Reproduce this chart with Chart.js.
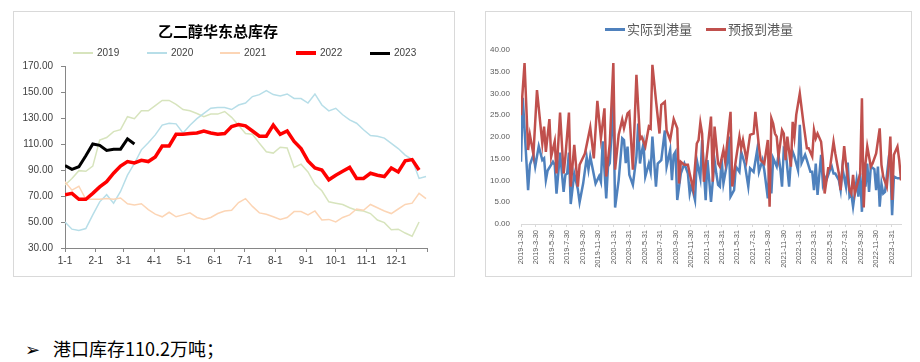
<!DOCTYPE html>
<html lang="zh-CN">
<head>
<meta charset="UTF-8">
<title>乙二醇华东总库存 / 到港量</title>
<script src="https://cdn.jsdelivr.net/npm/chart.js"></script>
<style>
  body { margin:0; background:#fff; width:920px; height:362px; position:relative; overflow:hidden; font-family:"Liberation Sans", Arial, sans-serif; }
  .panel { position:absolute; border:1px solid #d9d9d9; box-sizing:border-box; }
  #p1 { left:13px; top:11px; width:442px; height:266px; }
  #p2 { left:485px; top:11px; width:427px; height:266px; }
  .panel canvas { position:absolute; left:0; top:0; }
  .title { position:absolute; left:144px; top:9px; font-family:"Noto Sans CJK SC"; font-weight:bold; font-size:15px; line-height:20px; color:#000; }
  .leg { position:absolute; display:flex; align-items:center; white-space:nowrap; line-height:14px; }
  .leg i { display:inline-block; width:20px; margin-right:4px; }
  #p1 .leg { font-size:10px; color:#404040; top:34px; }
  #p2 .leg { font-size:13px; color:#595959; top:8px; font-family:"Noto Sans CJK SC"; line-height:18px; }
  #p2 .leg i { margin-right:2px; }
  .note { position:absolute; top:337px; font-family:"Noto Sans CJK SC"; font-size:18px; line-height:22px; color:#000; }
</style>
</head>
<body>

<div class="panel" id="p1">
  <canvas id="kucun" width="440" height="264"></canvas>
  <div class="title">乙二醇华东总库存</div>
  <div class="leg" style="left:59px"><i style="border-top:2px solid #d7e4bd"></i>2019</div>
  <div class="leg" style="left:133px"><i style="border-top:2px solid #b7dee8"></i>2020</div>
  <div class="leg" style="left:206px"><i style="border-top:2px solid #fcd5b5"></i>2021</div>
  <div class="leg" style="left:282px"><i style="border-top:4px solid #ff0000"></i>2022</div>
  <div class="leg" style="left:356px"><i style="border-top:3px solid #000000"></i>2023</div>
</div>

<div class="panel" id="p2">
  <canvas id="daogang" width="425" height="264"></canvas>
  <div class="leg" style="left:119px"><i style="border-top:3px solid #4f81bd"></i>实际到港量</div>
  <div class="leg" style="left:220px"><i style="border-top:3px solid #c0504d"></i>预报到港量</div>
</div>

<div class="note" style="left:25px">➢</div>
<div class="note" style="left:53px">港口库存110.2万吨；</div>

<script>
  // ---- 左图：乙二醇华东总库存（周度，第k周 = 第7k天）----
  const years = ['2019', '2020', '2021', '2022', '2023'];
  const monthDays = [0, 31, 59, 90, 120, 151, 181, 212, 243, 273, 304, 334, 365];
  const monthLabels = ['1-1', '2-1', '3-1', '4-1', '5-1', '6-1', '7-1', '8-1', '9-1', '10-1', '11-1', '12-1', ''];
  const yTicks1 = [30, 50, 70, 90, 110, 130, 150, 170];

  const s2019 = [78.5, 83.5, 89.5, 89, 93, 113, 115, 119.5, 121, 131, 129.5, 135.5, 135.5, 139.5, 143.5, 143.5,
    140.5, 136.5, 135.5, 133.5, 131, 133, 133, 135, 130.5, 124.5, 118, 117.5, 110.5, 104, 103, 107.5, 107,
    92, 94.5, 88.5, 79, 74, 65.5, 64.5, 63.5, 61, 59, 58.5, 56.5, 51.5, 49.5, 44, 44.5, 41.5, 39, 50];
  const s2020 = [50, 44.5, 43.5, 45, 55.5, 65.5, 71, 64.5, 73.5, 86, 95, 105.5, 111, 117, 124.5, 126, 125.5,
    118.5, 124.5, 129.5, 133.5, 137.5, 138, 138, 136.5, 140, 141.5, 146.5, 148, 151, 148, 147, 148.5, 145,
    145, 141.5, 148.5, 140, 135.5, 137.5, 132.5, 128.5, 126, 121, 116.5, 116, 114.5, 110.5, 106.5, 101.5,
    98, 83.5, 85];
  const s2021 = [81, 74.5, 77.5, 67.5, 67.5, 67.5, 68, 67.5, 68.5, 64, 63, 64, 59.5, 56, 54, 57.5, 54, 55.5,
    57, 53.5, 52, 53.5, 56.5, 58.5, 59, 65, 68, 62, 57, 56, 54, 52, 53.5, 58, 58, 55.5, 58.5, 51.5, 52, 50,
    53.5, 55.5, 60, 59, 63.5, 61, 58.5, 56.5, 60, 63.5, 64.5, 72, 68];
  const s2022 = [71, 72, 67.5, 67.5, 72, 77, 81, 87.5, 93, 96.5, 95.5, 97.5, 96.5, 100, 108.5, 108.5, 117.5,
    117.5, 118, 118.5, 120, 118.5, 117.5, 118, 123.5, 125, 124, 120, 116, 116, 124.5, 117.5, 120, 112, 106.5,
    97, 91.5, 90, 82.5, 86, 89, 92, 83.5, 83.5, 87.5, 86, 85, 91.5, 88.5, 97, 98, 90];
  const s2023 = [93.5, 90.5, 92.5, 101, 110, 109, 105, 106, 106, 114, 110];

  // ---- 右图：实际/预报到港量（周度，起点 2019-1-30）----
  const xLabels2 = ['2019-1-30', '2019-3-30', '2019-5-30', '2019-7-30', '2019-9-30', '2019-11-30',
    '2020-1-31', '2020-3-31', '2020-5-31', '2020-7-31', '2020-9-30', '2020-11-30',
    '2021-1-31', '2021-3-31', '2021-5-31', '2021-7-31', '2021-9-30', '2021-11-30',
    '2022-1-31', '2022-3-31', '2022-5-31', '2022-7-31', '2022-9-30', '2022-11-30', '2023-1-31'];
  const lastWeek = 214;

  const actualWeeks = [0, 1, 4, 5, 7, 8, 10, 12, 13, 14, 15, 18, 19, 20, 22, 24, 25, 26, 27, 28, 30, 32, 33, 35,
    37, 38, 39, 42, 44, 45, 46, 48, 49, 50, 52, 53, 55, 57, 58, 59, 60, 61, 63, 65, 66, 67, 68, 69, 70, 72,
    73, 74, 76, 77, 79, 81, 82, 84, 85, 86, 87, 88, 90, 92, 94, 95, 96, 98, 99, 101, 102, 104, 105, 106, 107,
    109, 110, 111, 112, 113, 114, 116, 117, 118, 120, 121, 123, 124, 126, 128, 129, 131, 133, 134, 136, 137,
    139, 140, 141, 142, 144, 145, 146, 147, 148, 149, 151, 152, 153, 154, 156, 157, 158, 160, 161, 163, 164,
    165, 166, 167, 169, 170, 171, 172, 174, 175, 176, 177, 179, 180, 181, 183, 184, 185, 186, 187, 189, 190,
    191, 192, 193, 194, 195, 196, 197, 199, 200, 201, 202, 203, 204, 205, 207, 208, 209, 210, 212, 214];
  const actualVals = [14.3, 29, 7.8, 13.6, 15.9, 13.2, 17.9, 14.7, 15.1, 10.1, 12.3, 14.3, 13.6, 7, 16.4, 7.4,
    11.3, 11.6, 16.4, 4.6, 11.6, 8, 5, 9.3, 15.3, 12.5, 15.5, 9.3, 11, 9.7, 19, 5.9, 13.2, 14, 28, 3.8, 10.1,
    19.7, 19.3, 14, 17.8, 11.3, 9, 15.5, 23.1, 13.9, 16.6, 18.5, 10.9, 13.9, 12, 20.1, 8.6, 13.9, 14.7, 21.5,
    13.2, 17, 10.1, 15.9, 16.6, 5.5, 11.6, 13.9, 11.6, 7, 9, 5.5, 14.7, 10.5, 19.3, 5.5, 14.7, 10.1, 5.1,
    14.7, 11.6, 9, 8.6, 14.9, 9.3, 13.9, 20.1, 6.3, 7.8, 13.2, 12, 16.6, 13.9, 8.6, 12.8, 12, 17, 12, 14.7,
    12.4, 5.9, 14.7, 7, 15.1, 13.2, 15.9, 12.8, 8.6, 17.4, 17, 8.6, 14.7, 16.6, 15.5, 12.4, 22.8, 14, 15.9,
    14.7, 12, 12, 7.8, 13.9, 6.7, 15.9, 9.3, 10.9, 10.1, 12.4, 13.2, 11.6, 11.6, 10.1, 7.8, 12.8, 8.6, 14.1,
    6.3, 7, 4, 10.1, 6.3, 11.6, 2.8, 14.1, 8.6, 13.9, 7.4, 13.2, 12.6, 7.8, 13.2, 4, 9.3, 7, 7.4, 14.7, 13.6,
    2, 10.9, 10.5, 10.5];

  const forecastWeeks = [0, 2, 4, 5, 7, 9, 12, 13, 14, 16, 17, 19, 20, 22, 24, 25, 27, 28, 30, 32, 33, 36, 39,
    41, 43, 45, 47, 48, 50, 52, 53, 55, 57, 58, 60, 61, 63, 65, 67, 68, 70, 72, 73, 74, 76, 78, 79, 81, 82,
    84, 86, 88, 89, 90, 92, 94, 95, 97, 99, 100, 101, 102, 103, 105, 107, 108, 109, 111, 112, 114, 115, 118,
    119, 120, 121, 123, 124, 125, 127, 129, 131, 132, 134, 135, 137, 139, 140, 141, 142, 143, 144, 145, 147,
    148, 149, 150, 152, 153, 154, 155, 157, 159, 161, 162, 164, 165, 166, 167, 169, 170, 171, 173, 174, 176,
    177, 179, 180, 182, 183, 185, 186, 187, 188, 191, 192, 193, 194, 195, 197, 198, 200, 202, 203, 204, 206,
    207, 208, 209, 210, 212, 213, 214];
  const forecastVals = [25, 37, 17, 20.5, 16, 30.8, 18.5, 22.4, 16.6, 24.1, 15.5, 19, 11.6, 25.6, 11.6, 15.5,
    25.6, 8.6, 18.2, 8.6, 13.6, 16.2, 22.2, 15.1, 28.3, 19.7, 26.6, 10.9, 18.5, 37, 12.5, 20.5, 24, 22, 25.4,
    25.8, 12.5, 34.3, 19.5, 20, 17.8, 22.4, 22, 36.6, 28.5, 20.8, 27.4, 28.1, 21.5, 19.3, 24.1, 22, 9.3, 14.3,
    13.6, 13.6, 11.6, 8, 18.5, 19.3, 23.3, 20.8, 9.7, 17, 24.7, 9.7, 22.4, 13.9, 13.2, 17, 14.3, 25.8, 8.6,
    11.6, 14.7, 20.1, 17.4, 19.3, 14.7, 20.5, 20.8, 25.8, 17.8, 14.7, 13.9, 19.3, 4, 24.3, 23.1, 20.8, 20.1,
    15.5, 21.6, 20.8, 14.7, 20.1, 13.2, 23.5, 20.1, 25.1, 30, 23.4, 17.4, 17.4, 15.5, 21.6, 19.7, 20.8, 18.9,
    14.7, 7, 12.8, 12.8, 18.9, 16.2, 11.6, 7.8, 17.9, 13.9, 7.8, 7, 11.3, 7, 11.6, 28.9, 3.8, 13.9, 17.8,
    13.2, 13.9, 16.2, 22, 13.6, 10.9, 8.6, 13.2, 20.1, 5.5, 15.9, 17.8, 14.7, 10];

  // ---------------- 左图 ----------------
  const series1 = [s2019, s2020, s2021, s2022, s2023];
  const colors1 = ['#d7e4bd', '#b7dee8', '#fcd5b5', '#ff0000', '#000000'];
  const widths1 = [1.5, 1.5, 1.5, 3.5, 3];
  const axisGray = '#868686';

  new Chart(document.getElementById('kucun'), {
    type: 'line',
    data: {
      datasets: years.map((y, i) => ({
        label: y,
        data: series1[i].map((v, k) => ({ x: k * 7, y: v })),
        borderColor: colors1[i],
        borderWidth: widths1[i],
        pointRadius: 0,
        tension: 0,
        order: years.length - i
      }))
    },
    options: {
      responsive: false,
      animation: false,
      layout: { padding: { top: 54, right: 27, left: 0, bottom: 0 } },
      plugins: { legend: { display: false }, tooltip: { enabled: false } },
      scales: {
        x: {
          type: 'linear', min: 0, max: 365,
          afterBuildTicks: s => { s.ticks = monthDays.map(v => ({ value: v })); },
          afterFit: s => { s.height = 28; },
          ticks: { autoSkip: false, maxRotation: 0, padding: 3, color: '#404040',
            font: { size: 10, family: 'Liberation Sans' },
            callback: (v, i) => monthLabels[i] },
          grid: { drawOnChartArea: false, tickLength: 4, color: axisGray },
          border: { color: axisGray }
        },
        y: {
          min: 30, max: 170,
          afterBuildTicks: s => { s.ticks = yTicks1.map(v => ({ value: v })); },
          afterFit: s => { s.width = 51; },
          ticks: { padding: 8, color: '#404040', font: { size: 10, family: 'Liberation Sans' },
            callback: v => v.toFixed(2) },
          grid: { drawOnChartArea: false, tickLength: 4, color: axisGray },
          border: { color: axisGray }
        }
      }
    }
  });

  // ---------------- 右图 ----------------
  const t0 = Date.UTC(2019, 0, 30);
  const labelDays = xLabels2.map(s => {
    const [y, m, d] = s.split('-').map(Number);
    return Math.round((Date.UTC(y, m - 1, d) - t0) / 864e5);
  });
  const yTicks2 = [0, 5, 10, 15, 20, 25, 30, 35, 40];

  new Chart(document.getElementById('daogang'), {
    type: 'line',
    data: {
      datasets: [
        { label: '实际到港量', data: actualWeeks.map((w, i) => ({ x: w * 7, y: actualVals[i] })),
          borderColor: '#4f81bd', borderWidth: 2.5, pointRadius: 0, tension: 0, order: 2 },
        { label: '预报到港量', data: forecastWeeks.map((w, i) => ({ x: w * 7, y: forecastVals[i] })),
          borderColor: '#c0504d', borderWidth: 2.5, pointRadius: 0, tension: 0, order: 1 }
      ]
    },
    options: {
      responsive: false,
      animation: false,
      layout: { padding: { top: 38, right: 10, left: 0, bottom: 0 } },
      plugins: { legend: { display: false }, tooltip: { enabled: false } },
      scales: {
        x: {
          type: 'linear', min: 0, max: lastWeek * 7,
          afterBuildTicks: s => { s.ticks = labelDays.map(v => ({ value: v })); },
          afterFit: s => { s.height = 52; },
          ticks: { autoSkip: false, maxRotation: 90, minRotation: 90, padding: 3, color: '#595959',
            font: { size: 7.5, family: 'Liberation Sans' },
            callback: (v, i) => xLabels2[i] },
          grid: { drawOnChartArea: false, tickLength: 3, color: '#d9d9d9' },
          border: { color: '#d9d9d9' }
        },
        y: {
          min: 0, max: 40,
          afterBuildTicks: s => { s.ticks = yTicks2.map(v => ({ value: v })); },
          afterFit: s => { s.width = 35; },
          ticks: { padding: 11, color: '#595959', font: { size: 8, family: 'Liberation Sans' },
            callback: v => v.toFixed(2) },
          grid: { display: false, drawTicks: false },
          border: { display: false }
        }
      }
    }
  });
</script>
</body>
</html>
